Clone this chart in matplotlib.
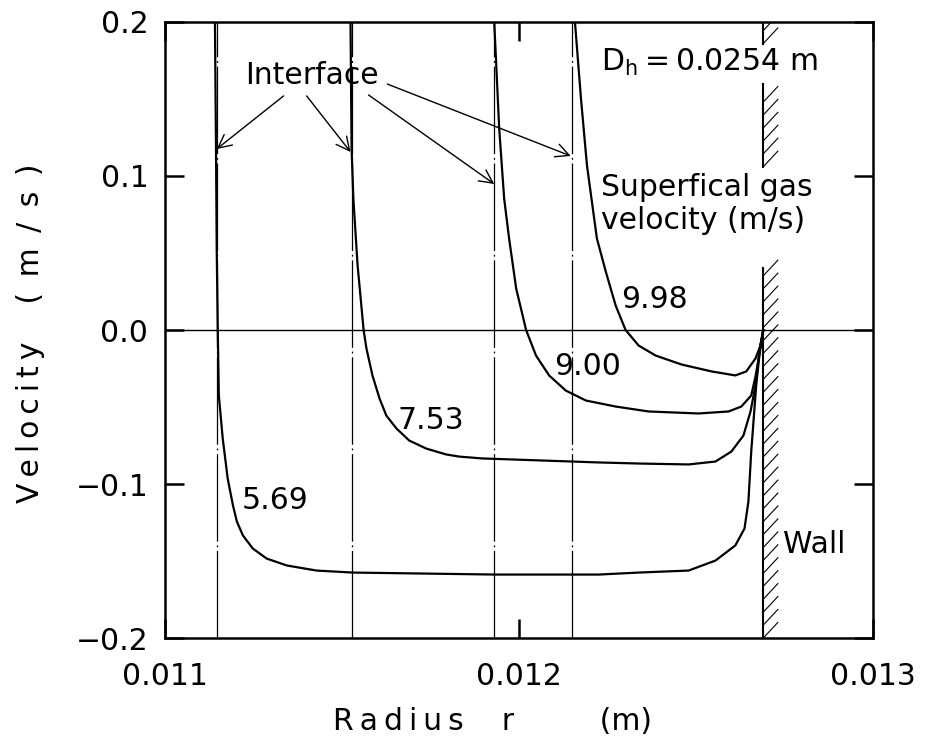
import numpy as np
import matplotlib
matplotlib.use("Agg")
import matplotlib.pyplot as plt
from matplotlib.collections import LineCollection

plt.rcParams['font.family'] = 'DejaVu Sans'
plt.rcParams['mathtext.default'] = 'regular'

# film velocity profiles, one curve per superficial gas velocity (m/s)
gas_velocity = ["5.69", "7.53", "9.00", "9.98"]

r_569 = [0.011141, 0.011144, 0.011146, 0.011149, 0.011152, 0.011163, 0.011177,
         0.011192, 0.011203, 0.011220, 0.011248, 0.011287, 0.011344, 0.011428,
         0.011530, 0.011935, 0.012225, 0.012338, 0.012479, 0.012555, 0.012611,
         0.012637, 0.012648, 0.012656, 0.012670, 0.012682, 0.012690]
u_569 = [0.200, 0.118, 0.053, 0.000, -0.0425, -0.0705, -0.0964,
         -0.1140, -0.1244, -0.1334, -0.1419, -0.1484, -0.1529, -0.1562,
         -0.1575, -0.1588, -0.1588, -0.1575, -0.1562, -0.1497, -0.1399,
         -0.1289, -0.1114, -0.0789, -0.0360, -0.0101, 0.000]

r_753 = [0.011524, 0.011527, 0.011532, 0.011544, 0.011561, 0.011569, 0.011586,
         0.011606, 0.011625, 0.011654, 0.011690, 0.011738, 0.011794, 0.011831,
         0.011896, 0.012225, 0.012338, 0.012479, 0.012555, 0.012600, 0.012634,
         0.012654, 0.012668, 0.012679, 0.012690]
u_753 = [0.200, 0.118, 0.0854, 0.0419, 0.000, -0.0120, -0.0295,
         -0.0445, -0.0555, -0.0640, -0.0718, -0.0770, -0.0808, -0.0822,
         -0.0834, -0.0860, -0.0867, -0.0873, -0.0854, -0.0789, -0.0685,
         -0.0529, -0.0360, -0.0140, 0.000]

r_900 = [0.011930, 0.011944, 0.011958, 0.011972, 0.011992, 0.012020, 0.012048,
         0.012085, 0.012132, 0.012189, 0.012273, 0.012366, 0.012507, 0.012592,
         0.012628, 0.012656, 0.012668, 0.012682, 0.012690]
u_900 = [0.200, 0.1308, 0.0854, 0.0594, 0.0269, 0.000, -0.0166,
         -0.0295, -0.0393, -0.0458, -0.0497, -0.0529, -0.0542, -0.0529,
         -0.0497, -0.0425, -0.0302, -0.0120, 0.000]

r_998 = [0.012158, 0.012175, 0.012192, 0.012220, 0.012245, 0.012273, 0.012301,
         0.012338, 0.012386, 0.012459, 0.012544, 0.012611, 0.012642, 0.012668,
         0.012682, 0.012690]
u_998 = [0.200, 0.1503, 0.1068, 0.0594, 0.0380, 0.0159, 0.000,
         -0.0101, -0.0166, -0.0224, -0.0269, -0.0295, -0.0269, -0.0185,
         -0.0101, 0.000]

profiles = [(r_569, u_569), (r_753, u_753), (r_900, u_900), (r_998, u_998)]

# liquid/gas interface position for each case, and the pipe wall
interface_r = [0.011147, 0.011527, 0.011930, 0.012149]
wall_r = 0.01269

x_ticks = [0.011, 0.012, 0.013]
x_labels = ["0.011", "0.012", "0.013"]
y_ticks = [0.2, 0.1, 0.0, -0.1, -0.2]
y_labels = ["0.2", "0.1", "0.0", "\u22120.1", "\u22120.2"]

FS = 21.5
TH = "\u2009"  # thin space, used to spread out the axis titles

fig = plt.figure(figsize=(9.35, 7.53), dpi=100)
ax = fig.add_axes([0.1765, 0.1527, 0.7572, 0.8181])

# interfaces (dash-dot), drawn under the curves
for r in interface_r:
    ax.axvline(r, color="k", lw=0.9, linestyle=(0, (70, 3, 1.5, 3)), zorder=1)

ax.axhline(0.0, color="k", lw=1.0, zorder=1)

for r, u in profiles:
    ax.plot(r, u, color="k", lw=1.6, zorder=3, solid_joinstyle="round")

# wall with hatching, broken where the texts sit
wall_parts = [(0.186, 0.2), (0.106, 0.160), (-0.2, 0.040)]
step, dx, dy = 0.0084, 0.0000423, 0.0104
segs = []
for lo, hi in wall_parts:
    ax.plot([wall_r, wall_r], [lo, hi], color="k", lw=1.5, zorder=3)
    for y in np.arange(lo, hi - 0.4 * dy, step):
        segs.append([(wall_r, y), (wall_r + dx, y + dy)])
ax.add_collection(LineCollection(segs, colors="k", linewidths=0.8, zorder=3))

# curve labels
label_pos = [(0.011310, -0.111), (0.011752, -0.059), (0.012194, -0.024), (0.012383, 0.020)]
for txt, (x, y) in zip(gas_velocity, label_pos):
    ax.text(x, y, txt, fontsize=FS, ha="center", va="center")

ax.text(0.012746, -0.139, "Wall", fontsize=FS, ha="left", va="center")
ax.text(0.012231, 0.1682, "D$_h$" + TH + "=" + TH + "0.0254 m", fontsize=FS,
        ha="left", va="baseline")
ax.text(0.012231, 0.0818, "Superfical gas\nvelocity (m/s)", fontsize=FS,
        ha="left", va="center", linespacing=1.15)

# "Interface" pointing at each interface line
ax.text(0.011414, 0.165, "Interface", fontsize=FS, ha="center", va="center")
arrows = [((0.011335, 0.152), (0.011146, 0.1175)),
          ((0.011400, 0.152), (0.011524, 0.1156)),
          ((0.011575, 0.1526), (0.011930, 0.0948)),
          ((0.011628, 0.1597), (0.012146, 0.113))]
for start, tip in arrows:
    ax.annotate("", xy=tip, xytext=start,
                arrowprops=dict(arrowstyle="->", color="k", lw=1.0,
                                mutation_scale=24, shrinkA=0, shrinkB=0))

ax.set_xlim(0.011, 0.013)
ax.set_ylim(-0.2, 0.2)
ax.set_xticks(x_ticks)
ax.set_xticklabels(x_labels)
ax.set_yticks(y_ticks)
ax.set_yticklabels(y_labels)
ax.tick_params(direction="in", length=14, width=1.8, labelsize=FS,
               top=True, right=True)
ax.tick_params(axis="x", pad=17)
ax.tick_params(axis="y", pad=12)
for s in ax.spines.values():
    s.set_linewidth(1.8)

xlab = TH.join("Radius") + "    r" + "         (m)"
ylab = TH.join("Velocity") + "    " + (" " + TH).join("(m/s)")
ax.set_xlabel(xlab, fontsize=FS)
ax.xaxis.set_label_coords(0.463, -0.112)
ax.set_ylabel(ylab, fontsize=FS)
ax.yaxis.set_label_coords(-0.17, 0.495)

fig.savefig("out.png", dpi=100)
